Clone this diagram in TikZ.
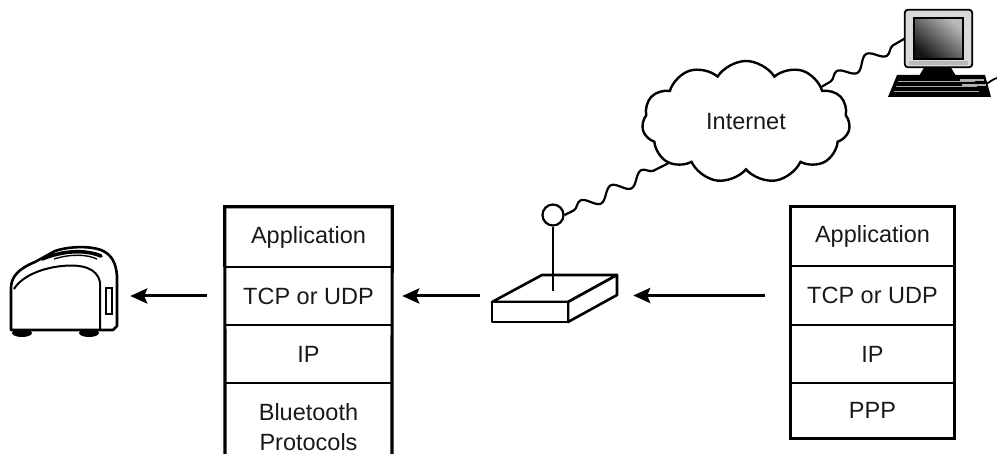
\documentclass[tikz,border=0pt]{standalone}
\usepackage{fontspec}
\setmainfont{Liberation Sans}
\usetikzlibrary{shapes.symbols,decorations.pathmorphing,arrows.meta}

\begin{document}
\begin{tikzpicture}[x=1pt,y=-1pt,
  layer/.style={inner sep=0pt, minimum width=#1, text=black!90,
    font=\fontsize{23.5}{30}\selectfont, align=center},
  layer/.default=167pt,
  outer/.style={line width=3.2pt, line cap=rect},
  divider/.style={line width=2.6pt},
  arr/.style={line width=3pt, -{Stealth[length=17pt,width=15pt,inset=3pt]}},
  wire/.style={line width=2.2pt, decorate,
    decoration={snake, segment length=34pt, amplitude=6pt, pre length=10pt, post length=4pt}},
  outline/.style={line width=2.6pt, line join=round},
]
\useasboundingbox (0,0) rectangle (997,454);

% ---------- left protocol stack (Bluetooth side) ----------
\node[layer, minimum height=60pt] (lapp) at (308.5,237) {Application};
\node[layer, minimum height=58pt] (ltcp) at (308.5,296) {TCP or UDP};
\node[layer, minimum height=58pt] (lip)  at (308.5,354) {IP};
\node[layer] (lbt) at (308.5,427) {Bluetooth\\Protocols};
\draw[outer] (225,456) -- (lapp.north west) -- (lapp.north east) -- (392,456);
\draw[divider] (lapp.south west) -- (lapp.south east);
\draw[divider] (ltcp.south west) -- (ltcp.south east);
\draw[divider] (lip.south west) -- (lip.south east);

% ---------- right protocol stack (PPP side) ----------
\node[layer=163pt, minimum height=59pt] (rapp) at (872.5,236.5) {Application};
\node[layer=163pt, minimum height=59pt] (rtcp) at (872.5,295.5) {TCP or UDP};
\node[layer=163pt, minimum height=58pt] (rip)  at (872.5,354) {IP};
\node[layer=163pt, minimum height=55pt] (rppp) at (872.5,410.5) {PPP};
\draw[outer] (rapp.north west) rectangle (rppp.south east);
\draw[divider] (rapp.south west) -- (rapp.south east);
\draw[divider] (rtcp.south west) -- (rtcp.south east);
\draw[divider] (rip.south west) -- (rip.south east);

% ---------- toaster ----------
\node[inner sep=0pt, minimum width=108pt, minimum height=87pt] (toaster) at (64,291.5) {};
\fill (22,333) ellipse [x radius=10, y radius=4];
\fill (89,333) ellipse [x radius=10, y radius=4];
\draw[outline, fill=white]
  (11,330) -- (11,288) .. controls (11,276) and (20,268) .. (35,262)
  -- (55,251) .. controls (70,246) and (90,246) .. (101,250)
  .. controls (111,254) and (116,262) .. (117,276)
  -- (117,326) -- (113,330) -- cycle;
\draw[line width=2pt]
  (14,289) .. controls (22,276) and (42,268) .. (62,266)
  .. controls (82,264) and (97,268) .. (100,282) -- (100,330);
\draw[line width=3.6pt, line cap=round]
  (42,259) .. controls (62,251) and (84,249) .. (101,256);
\draw[line width=1.4pt] (54,259) .. controls (70,254) and (86,254) .. (97,259);
\draw[line width=1.6pt] (106,288) rectangle (112,314);

% ---------- access point ----------
\node[inner sep=0pt, minimum width=125pt, minimum height=47pt] (router) at (554.5,298.5) {};
\draw[outline, fill=white] (492,302) -- (542,275) -- (617,275) -- (568,302) -- cycle;
\draw[outline, fill=white] (568,302) -- (617,275) -- (617,295) -- (568,322) -- cycle;
\draw[outline, fill=white] (492,302) rectangle (568,322);
\node[draw, circle, line width=2.2pt, inner sep=0pt, minimum size=21pt] (ant) at (553,215) {};
\draw[line width=2.2pt] (ant.south) -- (553,291);

% ---------- Internet cloud ----------
\node[cloud, draw, line width=2.4pt, cloud puffs=11, cloud puff arc=115, aspect=1.7,
      minimum width=208pt, minimum height=122pt, inner sep=0pt,
      text=black!90, font=\fontsize{23.5}{28}\selectfont] (net) at (746,122) {Internet};

% ---------- desktop computer ----------
\node[inner sep=0pt, minimum width=67pt, minimum height=57pt] (monitor) at (938.5,38.5) {};
\fill[black] (925,66) -- (950,66) -- (956,76) -- (919,76) -- cycle;
\draw[line width=1.8pt, fill=gray!30, rounded corners=3pt]
  (monitor.north west) rectangle (monitor.south east);
\shade[top color=gray!55, bottom color=black!92, shading angle=-40] (914,18) rectangle (963,59);
\draw[line width=1.2pt] (914,18) rectangle (963,59);
\fill[gray!55] (909,61) rectangle (968,65);
\fill[black] (897,75) -- (985,75) -- (991,97) -- (888,97) -- cycle;
\draw[gray!70, line width=0.8pt] (898,81) -- (975,81) (896,86) -- (977,86) (894,91) -- (979,91);
\draw[gray!60, line width=1.2pt] (960,80) -- (984,80) (962,85) -- (986,85);
\coordinate (kbd) at (986,84);
\draw[line width=1.8pt] (kbd) .. controls (990,82) and (993,79) .. (997,78);

% ---------- wireless links ----------
\draw[wire] (ant.east) -- (net.-152);
\draw[wire] (net.25) -- (monitor.west);

% ---------- data flow ----------
\draw[arr, shorten <=18pt, shorten >=12pt] (ltcp.west) -- (toaster.east |- ltcp.west);
\draw[arr, shorten <=12pt, shorten >=10pt] (router.west |- ltcp.east) -- (ltcp.east);
\draw[arr, shorten <=26pt, shorten >=16pt] (rtcp.west) -- (router.east |- rtcp.west);
\end{tikzpicture}
\end{document}
